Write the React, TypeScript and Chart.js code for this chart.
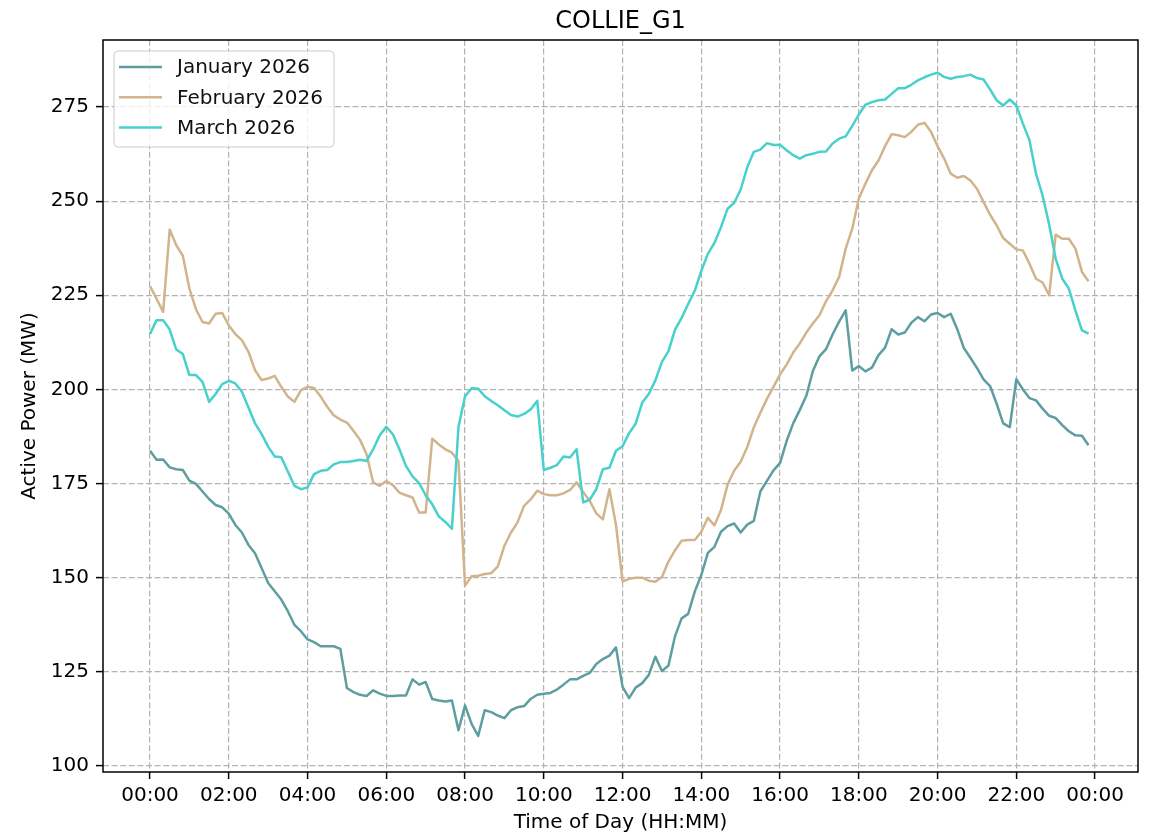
import React, { useEffect, useRef } from "react";
import { Chart, registerables } from "chart.js";

Chart.register(...registerables);

const CHART_TITLE = "COLLIE_G1";
const X_AXIS_TITLE = "Time of Day (HH:MM)";
const Y_AXIS_TITLE = "Active Power (MW)";
const SAMPLE_STEP_MINUTES = 10;

const seriesLabels = ["January 2026", "February 2026", "March 2026"];
const seriesColors = ["#5F9EA0", "#D2B48C", "#48D1CC"];

// Active power (MW), one value every 10 minutes from 00:00 to 23:50
const januaryMW = [
  183.7, 181.3, 181.4, 179.3, 178.8, 178.6, 175.8, 174.9, 172.9, 170.9, 169.3, 168.7,
  167.0, 164.0, 162.0, 158.7, 156.5, 152.6, 148.6, 146.4, 144.2, 141.1, 137.5, 135.8,
  133.6, 132.9, 131.8, 131.8, 131.8, 131.1, 120.7, 119.6, 118.9, 118.6, 120.1, 119.2,
  118.6, 118.6, 118.7, 118.7, 123.0, 121.6, 122.3, 117.8, 117.4, 117.1, 117.4, 109.5,
  116.1, 111.2, 108.0, 114.8, 114.3, 113.4, 112.7, 114.8, 115.6, 115.9, 117.8, 118.9,
  119.2, 119.4, 120.3, 121.6, 123.0, 123.0, 123.9, 124.7, 127.1, 128.4, 129.3, 131.5,
  121.0, 118.0, 120.8, 122.0, 124.2, 129.0, 125.2, 126.7, 134.5, 139.2, 140.4, 146.3,
  150.7, 156.6, 158.2, 162.2, 163.7, 164.4, 162.0, 164.1, 165.1, 172.9, 175.7, 178.5,
  180.5, 186.3, 191.0, 194.5, 198.3, 204.9, 208.8, 210.7, 214.6, 218.0, 221.0, 205.0,
  206.2, 204.8, 205.8, 209.1, 211.1, 216.0, 214.6, 215.1, 217.7, 219.2, 218.1, 219.9,
  220.3, 219.2, 220.1, 216.0, 211.0, 208.4, 205.7, 202.7, 200.9, 196.2, 191.0, 190.0,
  202.7, 200.0, 197.7, 197.1, 194.9, 193.0, 192.4, 190.5, 188.9, 187.8, 187.7, 185.2,
];

const februaryMW = [
  227.4, 224.1, 220.6, 242.5, 238.3, 235.5, 226.8, 221.3, 217.9, 217.5, 220.1, 220.3,
  217.0, 214.7, 213.1, 210.0, 205.1, 202.5, 202.9, 203.6, 200.7, 198.1, 196.7, 199.8,
  200.7, 200.4, 198.1, 195.4, 193.1, 192.0, 191.2, 189.0, 186.6, 182.8, 175.3, 174.4,
  175.7, 174.6, 172.6, 171.9, 171.3, 167.3, 167.3, 186.9, 185.4, 184.1, 183.2, 181.0,
  147.9, 150.4, 150.5, 151.0, 151.2, 153.0, 158.5, 162.0, 164.7, 169.1, 170.8, 173.1,
  172.2, 171.9, 171.9, 172.4, 173.3, 175.3, 172.8, 170.4, 167.1, 165.5, 173.5, 164.0,
  149.0, 149.7, 150.0, 150.0, 149.2, 148.9, 150.2, 154.3, 157.3, 159.8, 160.0, 160.0,
  162.2, 165.9, 163.9, 168.0, 174.7, 178.4, 180.8, 184.7, 189.9, 193.8, 197.5, 200.7,
  204.0, 206.6, 209.8, 212.2, 215.1, 217.5, 219.7, 223.4, 226.3, 229.9, 237.4, 242.7,
  250.7, 254.6, 258.2, 260.8, 264.6, 267.8, 267.5, 267.0, 268.4, 270.3, 270.8, 268.4,
  264.6, 261.3, 257.3, 256.2, 256.7, 255.5, 253.3, 249.8, 246.4, 243.6, 240.2, 238.7,
  237.2, 236.9, 233.4, 229.4, 228.4, 225.0, 241.1, 240.0, 240.0, 237.4, 231.2, 228.7,
];

const marchMW = [
  214.7, 218.4, 218.4, 215.9, 210.6, 209.4, 203.8, 203.8, 202.0, 196.7, 198.8, 201.4,
  202.3, 201.6, 199.4, 195.2, 191.0, 188.2, 184.8, 182.2, 182.0, 178.2, 174.4, 173.5,
  174.0, 177.5, 178.4, 178.6, 180.1, 180.7, 180.7, 181.0, 181.3, 181.0, 184.1, 187.8,
  190.1, 188.1, 184.1, 179.7, 176.9, 175.1, 171.9, 169.5, 166.3, 164.8, 163.0, 190.0,
  198.2, 200.3, 200.2, 198.2, 196.9, 195.8, 194.5, 193.2, 192.8, 193.5, 194.7, 197.0,
  178.6, 179.2, 179.9, 182.2, 181.9, 184.1, 170.0, 170.7, 173.5, 178.8, 179.2, 183.7,
  184.9, 188.4, 190.9, 196.5, 198.8, 202.4, 207.3, 210.2, 215.9, 219.0, 222.7, 226.2,
  231.5, 236.0, 238.9, 243.1, 248.0, 249.5, 253.1, 259.0, 263.1, 263.7, 265.4, 264.9,
  265.0, 263.5, 262.2, 261.3, 262.2, 262.6, 263.1, 263.2, 265.3, 266.6, 267.2, 270.0,
  273.0, 275.6, 276.3, 276.8, 277.0, 278.5, 280.0, 280.0, 280.9, 282.1, 282.9, 283.6,
  284.1, 283.0, 282.5, 283.0, 283.2, 283.6, 282.7, 282.3, 279.7, 276.8, 275.4, 277.0,
  275.4, 270.6, 266.2, 257.3, 251.5, 243.8, 234.7, 229.4, 226.8, 221.0, 215.7, 214.8,
];

const seriesValues = [januaryMW, februaryMW, marchMW];

const xTickHours = [0, 2, 4, 6, 8, 10, 12, 14, 16, 18, 20, 22, 24];
const xTickLabels = [
  "00:00", "02:00", "04:00", "06:00", "08:00", "10:00", "12:00",
  "14:00", "16:00", "18:00", "20:00", "22:00", "00:00",
];
const yTickValues = [100, 125, 150, 175, 200, 225, 250, 275];

const X_MIN = -1.194;
const X_MAX = 25.09;
const Y_MIN = 98.4;
const Y_MAX = 292.8;

const FONT_FAMILY = "'DejaVu Sans', 'Liberation Sans', sans-serif";
const GRID_COLOR = "#b3b3b3";
const TEXT_COLOR = "#000000";

const decorPlugin = {
  id: "mplDecor",
  afterDatasetsDraw(chart: any) {
    const { ctx, chartArea: a } = chart;
    ctx.save();
    // axes frame (spines)
    ctx.strokeStyle = "#000";
    ctx.lineWidth = 1.5;
    ctx.setLineDash([]);
    ctx.strokeRect(a.left, a.top, a.right - a.left, a.bottom - a.top);

    // legend (upper left, inside axes)
    const lx = a.left + 11;
    const ly = a.top + 11;
    const lw = 220;
    const lh = 96;
    const r = 4;
    ctx.beginPath();
    ctx.moveTo(lx + r, ly);
    ctx.lineTo(lx + lw - r, ly);
    ctx.arcTo(lx + lw, ly, lx + lw, ly + r, r);
    ctx.lineTo(lx + lw, ly + lh - r);
    ctx.arcTo(lx + lw, ly + lh, lx + lw - r, ly + lh, r);
    ctx.lineTo(lx + r, ly + lh);
    ctx.arcTo(lx, ly + lh, lx, ly + lh - r, r);
    ctx.lineTo(lx, ly + r);
    ctx.arcTo(lx, ly, lx + r, ly, r);
    ctx.closePath();
    ctx.fillStyle = "rgba(255,255,255,0.8)";
    ctx.fill();
    ctx.strokeStyle = "#cccccc";
    ctx.lineWidth = 1;
    ctx.stroke();

    ctx.font = `20px ${FONT_FAMILY}`;
    ctx.textBaseline = "middle";
    ctx.textAlign = "left";
    chart.data.datasets.forEach((ds: any, i: number) => {
      const y = ly + 16 + i * 30.3;
      ctx.strokeStyle = ds.borderColor;
      ctx.lineWidth = 2.5;
      ctx.beginPath();
      ctx.moveTo(lx + 5, y);
      ctx.lineTo(lx + 48, y);
      ctx.stroke();
      ctx.fillStyle = "#111";
      ctx.fillText(ds.label, lx + 63, y + 1);
    });

    // title
    ctx.font = `24px ${FONT_FAMILY}`;
    ctx.textAlign = "center";
    ctx.textBaseline = "alphabetic";
    ctx.fillStyle = TEXT_COLOR;
    ctx.fillText(CHART_TITLE, (a.left + a.right) / 2, a.top - 12);
    ctx.restore();
  },
};

export default function App() {
  const canvasRef = useRef<HTMLCanvasElement | null>(null);

  useEffect(() => {
    document.body.style.margin = "0";
    const canvas = canvasRef.current;
    if (!canvas) return;

    const datasets = seriesValues.map((vals, k) => ({
      label: seriesLabels[k],
      data: vals.map((v, i) => ({ x: (i * SAMPLE_STEP_MINUTES) / 60, y: v })),
      borderColor: seriesColors[k],
      backgroundColor: seriesColors[k],
      borderWidth: 2.5,
      pointRadius: 0,
      pointHoverRadius: 0,
      fill: false,
      tension: 0,
      borderJoinStyle: "round" as const,
      order: seriesValues.length - k,
    }));

    const tickFont = { family: FONT_FAMILY, size: 20 };

    const chart = new Chart(canvas, {
      type: "line",
      data: { datasets },
      plugins: [decorPlugin],
      options: {
        animation: false,
        responsive: false,
        maintainAspectRatio: false,
        events: [],
        layout: { padding: { left: 0, right: 17, top: 40, bottom: 0 } },
        plugins: {
          legend: { display: false },
          title: { display: false },
          tooltip: { enabled: false },
        },
        scales: {
          x: {
            type: "linear",
            min: X_MIN,
            max: X_MAX,
            afterBuildTicks: (scale: any) => {
              scale.ticks = xTickHours.map((v) => ({ value: v }));
            },
            afterFit: (scale: any) => {
              scale.height = 64;
            },
            ticks: {
              autoSkip: false,
              maxRotation: 0,
              minRotation: 0,
              padding: 5,
              color: TEXT_COLOR,
              font: tickFont,
              callback: (_v: any, i: number) => xTickLabels[i],
            },
            grid: {
              color: GRID_COLOR,
              lineWidth: 1.2,
              drawTicks: true,
              tickLength: 7,
              tickColor: "#000",
              tickWidth: 1.5,
              tickBorderDash: [],
            },
            border: { display: false, dash: [6, 2.6] },
            title: {
              display: true,
              text: X_AXIS_TITLE,
              color: TEXT_COLOR,
              font: { family: FONT_FAMILY, size: 20 },
              padding: { top: 0, bottom: 1 },
            },
          },
          y: {
            type: "linear",
            min: Y_MIN,
            max: Y_MAX,
            afterBuildTicks: (scale: any) => {
              scale.ticks = yTickValues.map((v) => ({ value: v }));
            },
            afterFit: (scale: any) => {
              scale.width = 103;
            },
            ticks: {
              autoSkip: false,
              padding: 7,
              color: TEXT_COLOR,
              font: tickFont,
              callback: (v: any) => String(v),
            },
            grid: {
              color: GRID_COLOR,
              lineWidth: 1.2,
              drawTicks: true,
              tickLength: 7,
              tickColor: "#000",
              tickWidth: 1.5,
              tickBorderDash: [],
            },
            border: { display: false, dash: [6, 2.6] },
            title: {
              display: true,
              text: Y_AXIS_TITLE,
              color: TEXT_COLOR,
              font: { family: FONT_FAMILY, size: 20 },
              padding: { top: 18, bottom: 0 },
            },
          },
        },
      } as any,
    });

    return () => {
      chart.destroy();
    };
  }, []);

  return (
    <div style={{ width: 1155, height: 836 }}>
      <canvas
        ref={canvasRef}
        width={1155}
        height={836}
        style={{ display: "block", width: 1155, height: 836 }}
      />
    </div>
  );
}
